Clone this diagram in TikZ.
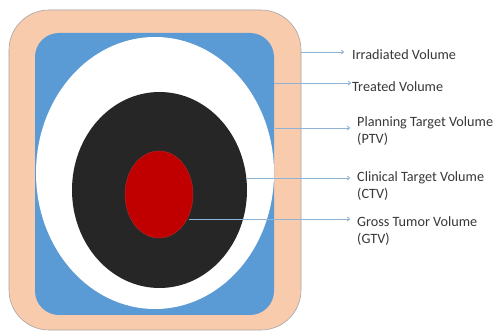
\documentclass[tikz,border=0pt]{standalone}
\usepackage{fontspec}
\setmainfont{Carlito}
\usetikzlibrary{arrows.meta,shapes.geometric}
\definecolor{peach}{HTML}{F8CBAD}
\definecolor{bluevol}{HTML}{5B9BD5}
\definecolor{darkvol}{HTML}{262626}
\definecolor{redvol}{HTML}{C00000}
\definecolor{linec}{HTML}{8DB3D6}
\definecolor{txt}{HTML}{383838}
\tikzset{
  conn/.style={draw=linec, line width=0.9pt, -{To[length=3pt,width=4.5pt]}},
  lbl/.style={anchor=west, text=txt, font=\fontsize{14.2}{17.5}\selectfont, inner sep=0pt, align=left},
}
\begin{document}
\begin{tikzpicture}[x=1pt,y=-1pt]
\useasboundingbox (0,0) rectangle (493,331);
\fill[white] (0,0) rectangle (493,331);
% outer irradiated volume
\draw[fill=peach, draw=gray!70, line width=0.6pt, rounded corners=40pt] (9,10) rectangle (301,330);
% treated volume
\fill[bluevol, rounded corners=24pt] (35,33) rectangle (274,315);
% PTV
\fill[white] (155,173) ellipse [x radius=119, y radius=136];
% CTV
\fill[darkvol] (159.5,190) ellipse [x radius=87.5, y radius=98];
% GTV
\draw[fill=redvol, draw=redvol!70!gray, line width=0.5pt] (159,194.5) ellipse [x radius=34, y radius=43.5];
% connector start points
\coordinate (s1) at (301,52);
\coordinate (s2) at (274,83);
\coordinate (s3) at (275,128);
\coordinate (s4) at (247,178);
\coordinate (s5) at (189,219);
% labels
\node[lbl] (l1) at (352,55) {Irradiated Volume};
\node[lbl] (l2) at (352,87) {Treated Volume};
\node[lbl] (l3) at (357,131) {Planning Target Volume\\ (PTV)};
\node[lbl] (l4) at (357,186) {Clinical Target Volume\\(CTV)};
\node[lbl] (l5) at (357,231) {Gross Tumor Volume\\ (GTV)};
% connectors
\draw[conn] (s1) -- ([xshift=-8pt]s1 -| l1.west);
\draw[conn] (s2) -- ([xshift=-1pt]s2 -| l2.west);
\draw[conn] (s3) -- ([xshift=-7pt]s3 -| l3.west);
\draw[conn] (s4) -- ([xshift=-7pt]s4 -| l4.west);
\draw[conn] (s5) -- ([xshift=-7pt]s5 -| l5.west);
\end{tikzpicture}
\end{document}
